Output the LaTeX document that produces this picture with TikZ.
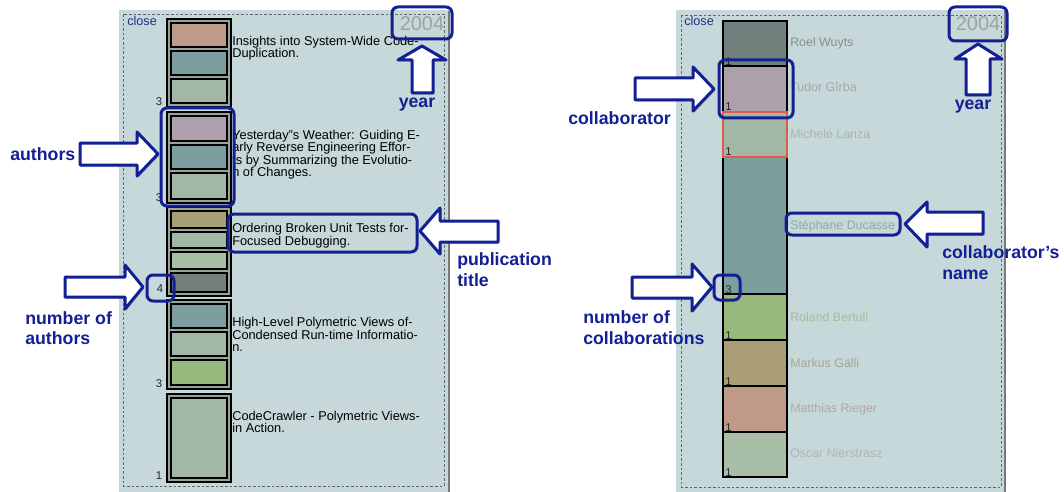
\documentclass[tikz,border=0pt]{standalone}
\usepackage{fontspec}
\setmainfont{Liberation Sans}
\usetikzlibrary{shadows}
\definecolor{panelbg}{RGB}{198,216,217}
\definecolor{framegrey}{RGB}{95,105,105}
\definecolor{edgegrey}{RGB}{120,122,122}
\definecolor{grpgrey}{RGB}{150,165,152}
\definecolor{hlblue}{RGB}{18,32,148}
\definecolor{closeblue}{RGB}{30,50,140}
\definecolor{yeargrey}{RGB}{158,164,164}
\definecolor{cSalmon}{RGB}{192,154,136}
\definecolor{cTeal}{RGB}{124,158,158}
\definecolor{cSage}{RGB}{163,183,166}
\definecolor{cMauve}{RGB}{173,160,171}
\definecolor{cTan}{RGB}{170,158,118}
\definecolor{cSageL}{RGB}{168,190,166}
\definecolor{cDark}{RGB}{114,128,126}
\definecolor{cGreen}{RGB}{152,185,124}
\definecolor{cRed}{RGB}{222,92,72}
\definecolor{nRoel}{RGB}{135,142,142}
\definecolor{nTudor}{RGB}{165,165,170}
\definecolor{nMichele}{RGB}{168,182,174}
\definecolor{nStephane}{RGB}{148,168,168}
\definecolor{nRoland}{RGB}{166,188,158}
\definecolor{nMarkus}{RGB}{166,166,148}
\definecolor{nMatthias}{RGB}{180,168,160}
\definecolor{nOscar}{RGB}{170,185,178}
\begin{document}
\begin{tikzpicture}[x=0.75pt,y=-0.75pt,
  panel/.style={fill=panelbg},
  frame/.style={draw=framegrey, line width=0.6pt, dash pattern=on 2pt off 1.5pt},
  edge/.style={draw=edgegrey, line width=1.2pt},
  grp/.style={draw=black, fill=grpgrey, line width=1.5pt},
  cell/.style={draw=black, line width=1.5pt},
  hl/.style={draw=hlblue, line width=2.25pt, rounded corners=4.5pt},
  barrow/.style={draw=hlblue, fill=white, line width=2.25pt, line join=round,
     drop shadow={opacity=0.3, shadow xshift=1pt, shadow yshift=-1.5pt}},
  lbl/.style={font=\fontsize{13.3}{15}\selectfont\bfseries, text=hlblue, inner sep=0, anchor=base west},
  ttl/.style={font=\fontsize{9.6}{10}\selectfont, inner sep=0, anchor=base west},
  nm/.style={font=\fontsize{9.3}{10}\selectfont, inner sep=0, anchor=base west},
  cnt/.style={font=\fontsize{8.5}{9}\selectfont, text=black!85, inner sep=0, anchor=base},
  yr/.style={font=\fontsize{15}{16}\selectfont, text=yeargrey, inner sep=0, anchor=base},
  cls/.style={font=\fontsize{9.5}{10}\selectfont, text=closeblue, inner sep=0, anchor=base west}]
\useasboundingbox (0,0) rectangle (1064,492);

% ---------------- left panel ----------------
\fill[panel] (119,10) rectangle (449,492);
\draw[edge] (449,11) -- (449,492);
\draw[frame] (123,14) rectangle (444,486);
\node[cls] (closeL) at (127,26) {close};
\node[yr] (yearL) at (422,31) {2004};

% group 1
\draw[grp] (167,19) rectangle (231,107);
\draw[cell, fill=cSalmon] (171,23) rectangle (227,47);
\draw[cell, fill=cTeal] (171,51) rectangle (227,75);
\draw[cell, fill=cSage] (171,79) rectangle (227,103);
\node[cnt] (n1) at (159,105) {3};
\node[ttl] (t1a) at (232,46) {Insights into System-Wide Code-};
\node[ttl] (t1b) at (232,58) {Duplication.};

% group 2
\draw[grp] (167,112) rectangle (231,203);
\draw[cell, fill=cMauve] (171,116) rectangle (227,141);
\draw[cell, fill=cTeal] (171,145) rectangle (227,169);
\draw[cell, fill=cSage] (171,173) rectangle (227,199);
\node[cnt] (n2) at (159,201) {3};
\node[ttl] (t2a) at (232,139) {Yesterday"s Weather: Guiding E-};
\node[ttl] (t2b) at (232,151.5) {arly Reverse Engineering Effor-};
\node[ttl] (t2c) at (232,164) {ts by Summarizing the Evolutio-};
\node[ttl] (t2d) at (232,176.5) {n of Changes.};

% group 3
\draw[grp] (167,207) rectangle (231,296);
\draw[cell, fill=cTan] (171,211) rectangle (227,228);
\draw[cell, fill=cSage] (171,232) rectangle (227,248);
\draw[cell, fill=cSageL] (171,252) rectangle (227,269);
\draw[cell, fill=cDark] (171,273) rectangle (227,292);
\node[cnt] (n3) at (160,292) {4};
\node[ttl] (t3a) at (232,232) {Ordering Broken Unit Tests for-};
\node[ttl] (t3b) at (232,245) {Focused Debugging.};

% group 4
\draw[grp] (167,300) rectangle (231,389);
\draw[cell, fill=cTeal] (171,304) rectangle (227,328);
\draw[cell, fill=cSage] (171,332) rectangle (227,356);
\draw[cell, fill=cGreen] (171,360) rectangle (227,385);
\node[cnt] (n4) at (159,387) {3};
\node[ttl] (t4a) at (232,326) {High-Level Polymetric Views of-};
\node[ttl] (t4b) at (232,339) {Condensed Run-time Informatio-};
\node[ttl] (t4c) at (232,351) {n.};

% group 5
\draw[grp] (167,394) rectangle (231,482);
\draw[cell, fill=cSage] (171,398) rectangle (227,478);
\node[cnt] (n5) at (159,479) {1};
\node[ttl] (t5a) at (232,420) {CodeCrawler - Polymetric Views-};
\node[ttl] (t5b) at (232,432.5) {in Action.};

% highlights left
\draw[hl] (392,7) rectangle (452,39);
\draw[hl] (161,108) rectangle (234,206);
\draw[hl] (147,275) rectangle (174,301);
\draw[hl] (228,214) rectangle (417,252);

% arrows left
\draw[barrow] (412,93) -- (412,60) -- (398,60) -- (422,46) -- (446,60) -- (433,60) -- (433,93) -- cycle;
\draw[barrow] (80,143) -- (137,143) -- (137,132) -- (158,154) -- (137,176) -- (137,165) -- (80,165) -- cycle;
\draw[barrow] (65,277) -- (125,277) -- (125,265) -- (143,287) -- (125,309) -- (125,297) -- (65,297) -- cycle;
\draw[barrow] (498,221) -- (440,221) -- (440,208) -- (420,231) -- (440,254) -- (440,242) -- (498,242) -- cycle;

% labels left
\node[lbl, anchor=base] (lyearL) at (417,108) {year};
\node[lbl] (lauth) at (10,161) {authors};
\node[lbl] (lnum1) at (25,324) {number of};
\node[lbl] (lnum2) at (25,344.5) {authors};
\node[lbl] (lpub1) at (457,265) {publication};
\node[lbl] (lpub2) at (457,286) {title};

% ---------------- right panel ----------------
\fill[panel] (676,10) rectangle (1005,492);
\draw[edge] (1005,11) -- (1005,492);
\draw[frame] (681,15) rectangle (1001,487);
\node[cls] (closeR) at (684,26) {close};
\node[yr] (yearR) at (978,31) {2004};

\draw[cell, fill=cDark] (723,21) rectangle (787,66);
\draw[cell, fill=cMauve] (723,66) rectangle (787,112);
\draw[cell, fill=cSage] (723,112) rectangle (787,157);
\draw[cell, fill=cTeal] (723,157) rectangle (787,294);
\draw[cell, fill=cGreen] (723,294) rectangle (787,340);
\draw[cell, fill=cTan] (723,340) rectangle (787,386);
\draw[cell, fill=cSalmon] (723,386) rectangle (787,432);
\draw[cell, fill=cSageL] (723,432) rectangle (787,477);
\draw[draw=cRed, line width=1.5pt] (723,112) rectangle (787,157);

\node[cnt, anchor=base west] (c1) at (725,65) {1};
\node[cnt, anchor=base west] (c2) at (725,111) {1};
\node[cnt, anchor=base west] (c3) at (725,156) {1};
\node[cnt, anchor=base west] (c4) at (725,293) {3};
\node[cnt, anchor=base west] (c5) at (725,339) {1};
\node[cnt, anchor=base west] (c6) at (725,385) {1};
\node[cnt, anchor=base west] (c7) at (725,431) {1};
\node[cnt, anchor=base west] (c8) at (725,476) {1};

\node[nm, text=nRoel] (m1) at (790,47) {Roel Wuyts};
\node[nm, text=nTudor] (m2) at (790,92) {Tudor Gîrba};
\node[nm, text=nMichele] (m3) at (790,138) {Michele Lanza};
\node[nm, text=nStephane] (m4) at (790,229) {Stéphane Ducasse};
\node[nm, text=nRoland] (m5) at (790,321) {Roland Bertuli};
\node[nm, text=nMarkus] (m6) at (790,367) {Markus Gälli};
\node[nm, text=nMatthias] (m7) at (790,412) {Matthias Rieger};
\node[nm, text=nOscar] (m8) at (790,457) {Oscar Nierstrasz};

% highlights right
\draw[hl] (949,7) rectangle (1007,41);
\draw[hl] (719,60) rectangle (793,118);
\draw[hl] (714,275) rectangle (740,300);
\draw[hl] (786,213) rectangle (900,235);

% arrows right
\draw[barrow] (966,95) -- (966,59) -- (955,59) -- (978,44) -- (1002,59) -- (990,59) -- (990,95) -- cycle;
\draw[barrow] (635,78) -- (693,78) -- (693,67) -- (714,89) -- (693,111) -- (693,100) -- (635,100) -- cycle;
\draw[barrow] (632,277) -- (692,277) -- (692,264) -- (712,287) -- (692,311) -- (692,298) -- (632,298) -- cycle;
\draw[barrow] (983,212) -- (927,212) -- (927,202) -- (905,224) -- (927,247) -- (927,234) -- (983,234) -- cycle;

% labels right
\node[lbl, anchor=base] (lyearR) at (973,109) {year};
\node[lbl] (lcol) at (568,124) {collaborator};
\node[lbl] (lnc1) at (583,323) {number of};
\node[lbl] (lnc2) at (583,344) {collaborations};
\node[lbl] (lcn1) at (942,258) {collaborator\symbol{39}s};
\node[lbl] (lcn2) at (942,279) {name};
\end{tikzpicture}
\end{document}
